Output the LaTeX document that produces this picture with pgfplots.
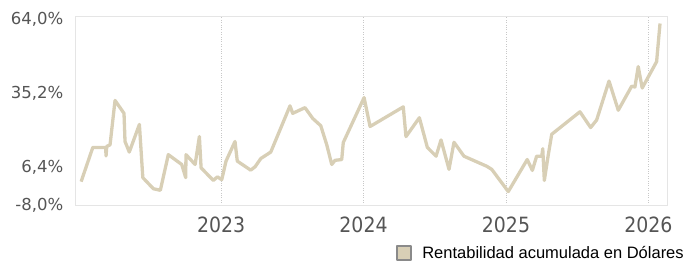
\documentclass[border=0pt]{standalone}
\usepackage{pgfplots}
\pgfplotsset{compat=1.18}
\usepackage{fontspec}
\setmainfont{DejaVu Sans Condensed}
\newfontfamily\ylfont{DejaVu Sans}
\newfontfamily\legfont{Liberation Sans}
\definecolor{beige}{RGB}{216,207,182}
\definecolor{txt}{RGB}{85,85,85}
\definecolor{frame}{RGB}{229,229,229}
\definecolor{gridc}{RGB}{200,200,200}
\definecolor{legborder}{RGB}{138,138,138}
\begin{document}
\begin{tikzpicture}
\begin{axis}[
  name=ax,
  scale only axis,
  width=592pt, height=189pt,
  xmin=2021.975, xmax=2026.13,
  ymin=-8, ymax=65.2,
  axis line style={draw=frame, line width=0.8pt},
  xtick={2023,2024,2025,2026},
  xticklabels={2023,2024,2025,2026},
  ytick={-8,6.4,35.2,64},
  yticklabels={{-8,0\%},{6,4\%},{35,2\%},{64,0\%}},
  major tick length=0pt,
  xmajorgrids,
  grid style={gridc, dotted, line width=0.8pt},
  xticklabel style={font=\fontsize{21}{24}\selectfont, text=txt, anchor=north, inner sep=0pt, yshift=-11.5pt},
  yticklabel style={font=\ylfont\fontsize{16.5}{20}\selectfont, text=txt, anchor=east, inner sep=0pt, xshift=-11.5pt},
  legend style={at={(rel axis cs:1.032,-0.254)}, anchor=east, draw=none, fill=none, inner sep=0pt,
    font=\legfont\fontsize{16.5}{19}\selectfont, text=black},
  legend cell align=left,
  legend image code/.code={\draw[fill=beige, draw=legborder, line width=2pt] (1pt,-7pt) rectangle (15pt,7pt); \path (0pt,0pt) (22.7pt,0pt);},
]
\addplot[color=beige, line width=3.3pt, line join=round] coordinates {
(2022.018,1.05)
(2022.100,14.3)
(2022.190,14.3)
(2022.193,11.0)
(2022.198,14.7)
(2022.221,15.3)
(2022.256,32.5)
(2022.319,27.5)
(2022.326,16.6)
(2022.356,12.5)
(2022.427,23.2)
(2022.451,2.6)
(2022.525,-1.7)
(2022.574,-2.3)
(2022.630,11.5)
(2022.724,7.7)
(2022.752,2.6)
(2022.754,11.5)
(2022.818,7.7)
(2022.848,18.5)
(2022.860,6.4)
(2022.946,1.5)
(2022.974,2.9)
(2023.005,1.8)
(2023.035,9.0)
(2023.098,16.6)
(2023.114,9.0)
(2023.208,5.5)
(2023.239,6.8)
(2023.279,10.0)
(2023.349,12.5)
(2023.484,30.4)
(2023.503,27.5)
(2023.589,29.7)
(2023.644,25.5)
(2023.700,22.7)
(2023.742,15.3)
(2023.777,7.7)
(2023.800,9.3)
(2023.847,9.6)
(2023.858,16.2)
(2024.004,33.6)
(2024.046,22.4)
(2024.279,30.0)
(2024.298,18.5)
(2024.392,25.8)
(2024.448,14.3)
(2024.509,10.9)
(2024.544,17.2)
(2024.600,5.8)
(2024.635,16.3)
(2024.705,10.9)
(2024.865,7.0)
(2024.900,5.8)
(2025.016,-2.8)
(2025.149,9.6)
(2025.185,5.4)
(2025.215,10.9)
(2025.251,10.9)
(2025.258,13.8)
(2025.269,1.5)
(2025.297,11.5)
(2025.321,19.4)
(2025.519,28.1)
(2025.594,22.0)
(2025.636,24.9)
(2025.723,40.0)
(2025.788,28.7)
(2025.882,38.0)
(2025.905,37.7)
(2025.928,45.6)
(2025.956,37.3)
(2026.057,47.5)
(2026.081,62.3)
};
\addlegendentry{Rentabilidad acumulada en Dólares}
\end{axis}
\pgfresetboundingbox
\path[use as bounding box] ([xshift=-75pt,yshift=-57pt]ax.south west) rectangle ([xshift=22pt,yshift=16pt]ax.north east);
\end{tikzpicture}
\end{document}
